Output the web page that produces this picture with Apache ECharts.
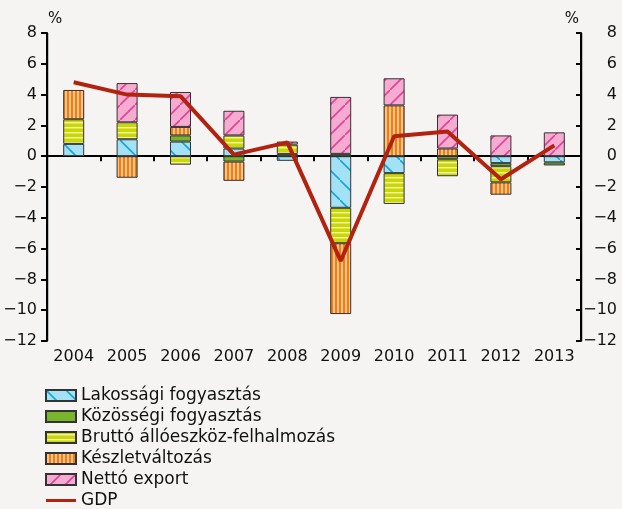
<!DOCTYPE html>
<html><head><meta charset="utf-8">
<script src="https://cdn.jsdelivr.net/npm/echarts@6/dist/echarts.min.js"></script>
<style>html,body{margin:0;padding:0;background:#f5f4f2;}#c{width:622px;height:509px;}</style>
</head><body><div id="c"></div>
<script>
const years = ['2004','2005','2006','2007','2008','2009','2010','2011','2012','2013'];
const lakossagi = [0.8, 1.1, 0.95, 0.5, -0.3, -3.35, -1.1, null, -0.45, -0.4];
const kozossegi = [null, null, 0.4, -0.35, 0.15, 0.15, null, -0.2, -0.2, -0.2];
const brutto = [1.6, 1.1, -0.55, 0.85, 0.6, -2.3, -2.0, -1.1, -1.05, null];
const keszlet = [1.9, -1.4, 0.55, -1.25, null, -4.6, 3.3, 0.5, -0.8, null];
const netto = [null, 2.55, 2.27, 1.6, 0.2, 3.7, 1.76, 2.2, 1.35, 1.55];
const gdp = [4.8, 4.0, 3.9, 0.1, 0.9, -6.8, 1.3, 1.6, -1.5, 0.7];
const names = ['Lakossági fogyasztás','Közösségi fogyasztás','Bruttó állóeszköz-felhalmozás','Készletváltozás','Nettó export','GDP'];
const yTicks = {min: -12, max: 8, interval: 2};

function tile(w, h, bg, draw) {
  const c = document.createElement('canvas');
  c.width = w; c.height = h;
  const g = c.getContext('2d');
  g.fillStyle = bg; g.fillRect(0, 0, w, h);
  draw(g, w, h);
  return {image: c, repeat: 'repeat'};
}
const pBlue = tile(20, 20, '#a3e1f4', (g, w, h) => {
  g.strokeStyle = '#1aa3da'; g.lineWidth = 1.6;
  g.beginPath(); g.moveTo(-2, -2); g.lineTo(w + 2, h + 2); g.stroke();
});
const pGreen = '#78b52a';
const pYellow = tile(4, 5, '#cbd700', (g, w, h) => {
  g.fillStyle = '#eff2a6'; g.fillRect(0, 2, w, 1.5);
});
const pOrange = tile(4, 4, '#f07e10', (g, w, h) => {
  g.fillStyle = '#fcc48c'; g.fillRect(1, 0, 2, h);
});
const pPink = tile(15, 15, '#f6abd0', (g, w, h) => {
  g.strokeStyle = '#e2439a'; g.lineWidth = 1.6;
  g.beginPath(); g.moveTo(-2, h + 2); g.lineTo(w + 2, -2); g.stroke();
});

const font = 'DejaVu Sans';
const minus = v => String(v).replace('-', '\u2212');
const gdpColor = '#b3220e';

function bar(name, data, color) {
  return {
    name, type: 'bar', stack: 'a', data, barWidth: 21, xAxisIndex: 0, yAxisIndex: 0,
    itemStyle: {color, borderColor: '#333', borderWidth: 1},
    emphasis: {disabled: true}
  };
}

const legendData = names.map((n, i) => i < 5 ? {name: n, icon: 'rect'} :
  {name: n, icon: 'path://M0,0H30V3H0Z', itemStyle: {color: gdpColor, borderWidth: 0}});

const chart = echarts.init(document.getElementById('c'), null, {renderer: 'canvas'});
chart.setOption({
  backgroundColor: '#f5f4f2',
  animation: false,
  textStyle: {fontFamily: font},
  grid: {left: 47, right: 41, top: 33, bottom: 168},
  legend: {
    orient: 'vertical', left: 45, top: 387, height: 130, padding: 0,
    itemWidth: 30, itemHeight: 11, itemGap: 4,
    textStyle: {fontSize: 17, color: '#111', fontFamily: font},
    data: legendData
  },
  xAxis: [
    {type: 'category', data: years, position: 'bottom',
     axisLine: {onZero: true, onZeroAxisIndex: 0, lineStyle: {color: '#000', width: 2}},
     axisTick: {show: true, length: 5, lineStyle: {color: '#000', width: 2}},
     axisLabel: {show: false}, splitLine: {show: false}},
    {type: 'category', data: years, position: 'bottom',
     axisLine: {show: false, onZero: false}, axisTick: {show: false},
     axisLabel: {show: true, fontSize: 16, color: '#111', margin: 8, fontFamily: font},
     splitLine: {show: true, interval: (i) => i === 8, lineStyle: {color: '#aaa', width: 2.5}}}
  ],
  yAxis: [
    {type: 'value', position: 'left', min: yTicks.min, max: yTicks.max, interval: yTicks.interval,
     name: '%', nameLocation: 'end', nameGap: 6,
     nameTextStyle: {fontSize: 15, color: '#111', align: 'left', padding: [0, 0, 0, 1], fontFamily: font},
     axisLine: {show: true, onZero: false, lineStyle: {color: '#000', width: 2}},
     axisTick: {show: true, length: 6, lineStyle: {color: '#000', width: 2}},
     axisLabel: {fontSize: 16, color: '#111', margin: 10, formatter: minus, fontFamily: font},
     splitLine: {show: false}},
    {type: 'value', position: 'right', min: yTicks.min, max: yTicks.max, interval: yTicks.interval,
     name: '%', nameLocation: 'end', nameGap: 6,
     nameTextStyle: {fontSize: 15, color: '#111', align: 'right', padding: [0, 2, 0, 0], fontFamily: font},
     axisLine: {show: true, onZero: false, lineStyle: {color: '#000', width: 2}},
     axisTick: {show: true, inside: true, length: 5, lineStyle: {color: '#000', width: 2}},
     axisLabel: {fontSize: 16, color: '#111', margin: 36, align: 'right', formatter: minus, fontFamily: font},
     splitLine: {show: false}}
  ],
  series: [
    bar(names[0], lakossagi, pBlue),
    bar(names[1], kozossegi, pGreen),
    bar(names[2], brutto, pYellow),
    bar(names[3], keszlet, pOrange),
    bar(names[4], netto, pPink),
    {name: names[5], type: 'line', data: gdp, xAxisIndex: 0, yAxisIndex: 0, symbol: 'none', z: 5,
     lineStyle: {color: gdpColor, width: 4}, itemStyle: {color: gdpColor}}
  ]
});
</script></body></html>
